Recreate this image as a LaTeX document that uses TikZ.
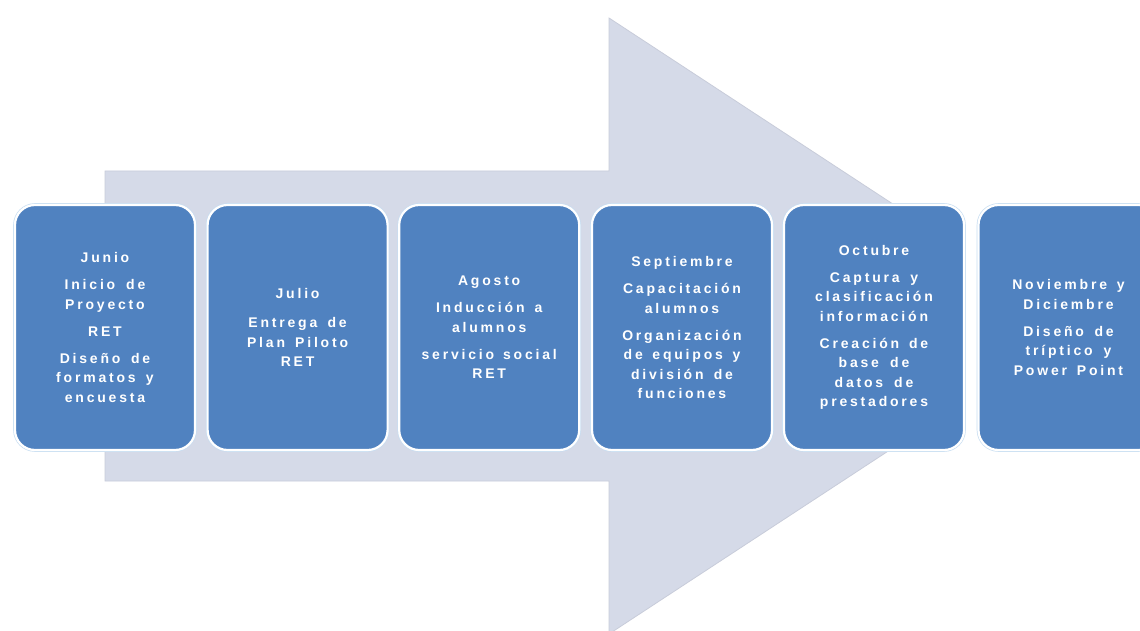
\documentclass[tikz,border=0pt]{standalone}
\usepackage{fontspec}
\newfontfamily\boxfont[LetterSpace=20]{Liberation Sans}
\definecolor{arrowfill}{RGB}{213,218,232}
\definecolor{arrowedge}{RGB}{200,204,218}
\definecolor{boxfill}{RGB}{80,130,192}
\definecolor{boxglow}{RGB}{200,222,242}
\newcommand{\wsp}{\spaceskip=7.5pt plus 2pt\relax}
\tikzset{
  stagebox/.style={draw=white, line width=2.2pt, fill=boxfill, rounded corners=20pt,
    minimum width=180pt, minimum height=245pt, inner sep=0pt,
    text=white, align=center, text width=176pt,
    font=\boxfont\bfseries\fontsize{14}{19.5}\selectfont},
  glow/.style={draw=boxglow, line width=3.6pt, rounded corners=20pt}
}
\newcommand{\pgap}{\\[7.5pt]}
\begin{document}
\begin{tikzpicture}[x=1pt,y=-1pt]
\useasboundingbox (0,0) rectangle (1140,631);
\fill[white] (0,0) rectangle (1140,631);
% big arrow (its tip is hidden behind the fifth box)
\filldraw[fill=arrowfill, draw=arrowedge, line width=0.8pt]
  (105,171) -- (609,171) -- (609,18) -- (960,248) -- (960,404) -- (609,634) -- (609,481) -- (105,481) -- cycle;
% boxes
\foreach \cx in {105,297.6,489.2,682,874,1068.5}{
  \draw[glow] (\cx-90,205) rectangle (\cx+90,450);
}
\node[stagebox] (b1) at (105,327.5) {\wsp Junio\pgap Inicio de\\ Proyecto\pgap RET\pgap Diseño de\\ formatos y\\ encuesta};
\node[stagebox] (b2) at (297.6,327.5) {\wsp Julio\\[10pt] Entrega de\\ Plan Piloto\\ RET};
\node[stagebox] (b3) at (489.2,327.5) {\wsp Agosto\pgap Inducción a\\ alumnos\pgap servicio social\\ RET};
\node[stagebox] (b4) at (682,327.5) {\wsp Septiembre\pgap Capacitación\\ alumnos\pgap Organización\\ de equipos y\\ división de\\ funciones};
\node[stagebox] (b5) at (874,327.5) {\wsp Octubre\pgap Captura y\\ clasificación\\ información\pgap Creación de\\ base de\\ datos de\\ prestadores};
\node[stagebox] (b6) at (1068.5,327.5) {\wsp Noviembre y\\ Diciembre\pgap Diseño de\\ tríptico y\\ Power Point};
\end{tikzpicture}
\end{document}
